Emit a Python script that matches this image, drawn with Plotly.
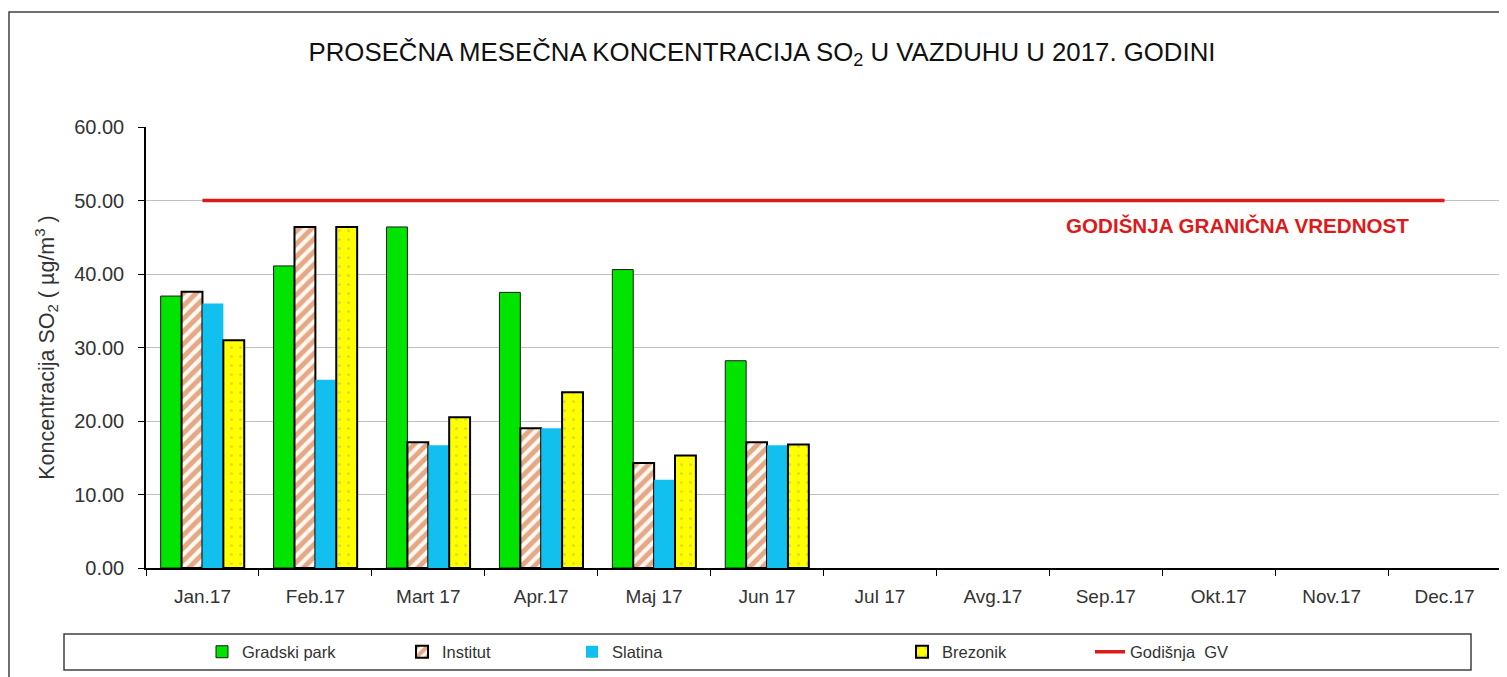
import plotly.graph_objects as go

months = ["Jan.17", "Feb.17", "Mart 17", "Apr.17", "Maj 17", "Jun 17",
          "Jul 17", "Avg.17", "Sep.17", "Okt.17", "Nov.17", "Dec.17"]
gradski_park = [37.0, 41.1, 46.4, 37.5, 40.6, 28.2, None, None, None, None, None, None]
institut = [37.6, 46.4, 17.1, 19.0, 14.3, 17.1, None, None, None, None, None, None]
slatina = [36.0, 25.6, 16.7, 19.0, 12.0, 16.7, None, None, None, None, None, None]
brezonik = [31.0, 46.4, 20.5, 23.9, 15.3, 16.8, None, None, None, None, None, None]
granicna_vrednost = [50.0] * 12
y_ticks = [0, 10, 20, 30, 40, 50, 60]

W, H = 1507, 677
OFF = 8  # page body margin offset in the browser
FONT = "Liberation Sans, Arial, sans-serif"

def px(x):
    return (x - OFF) / W

def py(y):
    return 1 - (y - OFF) / H

fig = go.Figure()

fig.add_trace(go.Bar(
    x=months, y=gradski_park, name="Gradski park", legend="legend",
    marker=dict(color="#00E400", line=dict(color="#1a1a1a", width=1)),
))
fig.add_trace(go.Bar(
    x=months, y=institut, name="Institut", legend="legend2",
    marker=dict(color="#FFF8F0", line=dict(color="#000000", width=2),
                pattern=dict(shape="/", fgcolor="#C8571C", bgcolor="#FFF8F0",
                             size=9, solidity=0.55, fillmode="overlay")),
))
fig.add_trace(go.Bar(
    x=months, y=slatina, name="Slatina", legend="legend3",
    marker=dict(color="#12C0F0", line=dict(color="#12C0F0", width=0)),
))
fig.add_trace(go.Bar(
    x=months, y=brezonik, name="Brezonik", legend="legend4",
    marker=dict(color="#FFFF00", line=dict(color="#000000", width=2),
                pattern=dict(shape=".", fgcolor="#C4BC50", bgcolor="#FFFF00",
                             size=9, solidity=0.1, fillmode="overlay")),
))
fig.add_trace(go.Scatter(
    x=months, y=granicna_vrednost, name="Godišnja  GV", legend="legend5",
    mode="lines", line=dict(color="#DD1A1A", width=3.5),
))

leg_common = dict(orientation="h", yanchor="middle", xanchor="left",
                  bgcolor="rgba(0,0,0,0)", borderwidth=0,
                  font=dict(family=FONT, size=16.5, color="#333333"),
                  itemwidth=30, tracegroupgap=0)
y_leg = py(652)
fig.update_layout(
    legend=dict(x=px(202), y=y_leg, **leg_common),
    legend2=dict(x=px(402), y=y_leg, **leg_common),
    legend3=dict(x=px(572), y=y_leg, **leg_common),
    legend4=dict(x=px(902), y=y_leg, **leg_common),
    legend5=dict(x=px(1090), y=y_leg, **leg_common),
)

fig.update_layout(
    width=W, height=H,
    margin=dict(l=0, r=0, t=0, b=0, autoexpand=False),
    paper_bgcolor="white", plot_bgcolor="white",
    barmode="group", bargap=0.26, bargroupgap=0.0,
    showlegend=True,
    font=dict(family=FONT, size=15, color="#333333"),
    title=dict(text="PROSEČNA MESEČNA KONCENTRACIJA SO<sub>2</sub> U VAZDUHU U 2017. GODINI",
               x=px(762), xref="paper", xanchor="center", y=py(52), yanchor="middle",
               font=dict(family=FONT, size=25.8, color="#111111")),
    xaxis=dict(domain=[px(146), px(1501)], type="category", categoryorder="array",
               categoryarray=months, showgrid=False, showline=True,
               linecolor="#000000", linewidth=1.5, ticks="outside",
               tickson="boundaries", ticklen=6, tickcolor="#000000",
               ticklabelstandoff=10, automargin=False,
               tickfont=dict(family=FONT, size=19, color="#333333"),
               fixedrange=True),
    yaxis=dict(domain=[py(568), py(127)], range=[0, 60], tickvals=y_ticks,
               tickformat=".2f", showgrid=True, gridcolor="#C0C0C0", gridwidth=1,
               showline=True, linecolor="#000000", linewidth=1.5,
               ticks="outside", ticklen=6, tickcolor="#000000",
               ticklabelstandoff=10, automargin=False,
               tickfont=dict(family=FONT, size=20, color="#333333"),
               zeroline=False, fixedrange=True,
               title=dict(text="Koncentracija SO<sub>2</sub> ( µg/m<sup>3</sup> )",
                          font=dict(family=FONT, size=21.5, color="#333333"),
                          standoff=14)),
)

fig.add_annotation(text="GODIŠNJA GRANIČNA VREDNOST", xref="paper", yref="paper",
                   x=px(1237), y=py(225), xanchor="center", yanchor="middle",
                   showarrow=False,
                   font=dict(family=FONT, size=20.6, color="#DD1A1A", weight="bold"))

# outer chart border
fig.add_shape(type="rect", xref="paper", yref="paper",
              x0=px(9), x1=1.02, y0=-0.02, y1=py(12),
              line=dict(color="#404040", width=1.5), fillcolor="rgba(0,0,0,0)",
              layer="below")
# plot area right border
fig.add_shape(type="line", xref="x domain", yref="y domain", x0=1, x1=1, y0=0, y1=1,
              line=dict(color="#A0A0A0", width=1.5))
# legend box
fig.add_shape(type="rect", xref="paper", yref="paper",
              x0=px(64), x1=px(1471), y0=py(670), y1=py(634),
              line=dict(color="#404040", width=1.5), fillcolor="rgba(0,0,0,0)")

fig.write_html("out.html")
